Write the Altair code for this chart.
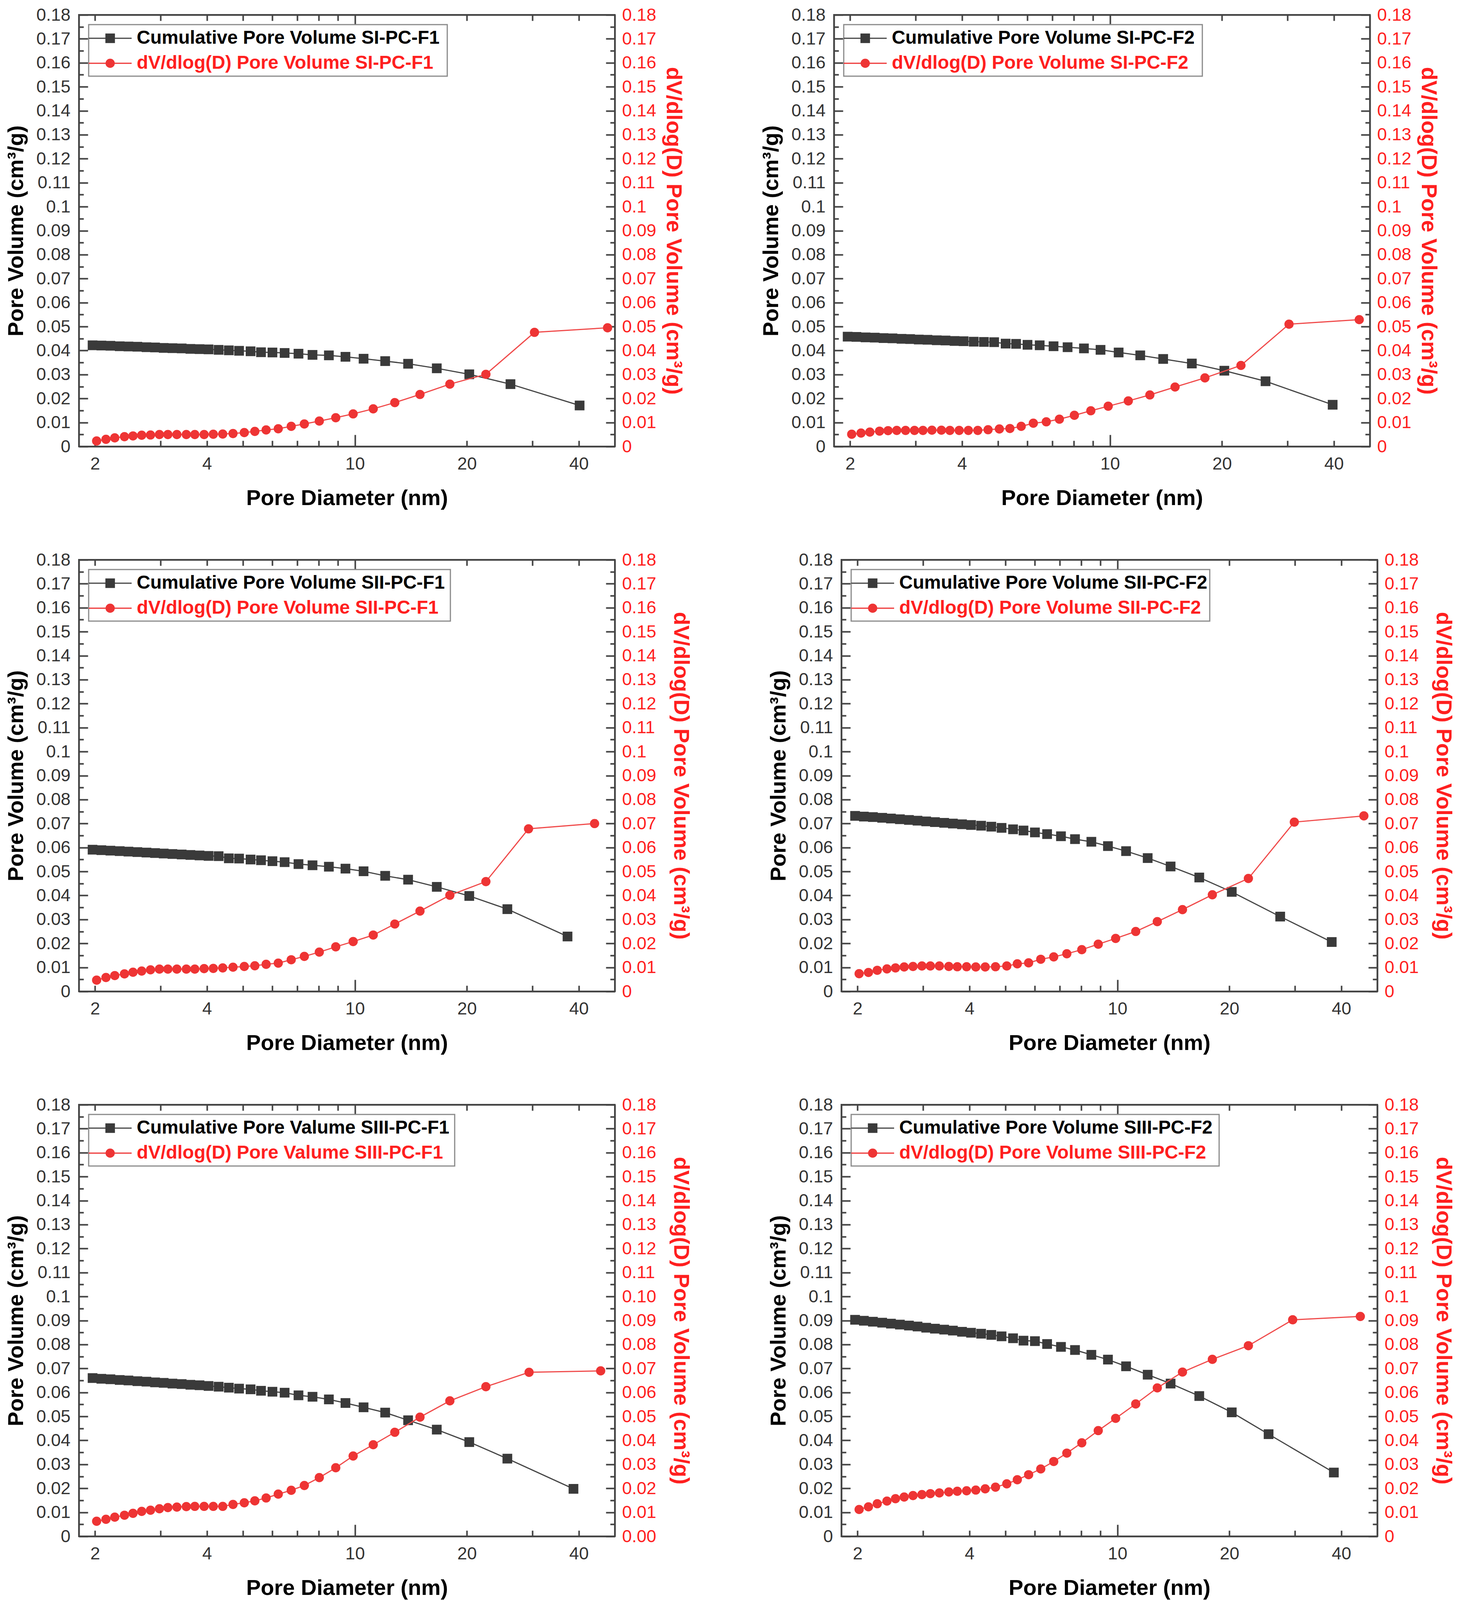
import altair as alt
import pandas as pd

FONT = "Liberation Sans"

# ---------------- axes ----------------
X_TICKS = [2, 3, 4, 5, 6, 7, 8, 9, 10, 20, 30, 40]
X_LABELS = [2, 4, 10, 20, 40]
X_DOMAIN = [1.81, 50]
Y_DOMAIN = [0, 0.18]
Y_TICKS = [round(0.005 * i, 3) for i in range(37)]

# ---------------- pore diameters (nm) ----------------
D_SQ_BASE = [1.97, 2.08, 2.20, 2.33, 2.46, 2.60, 2.75, 2.90, 3.06, 3.23, 3.42, 3.61, 3.82, 4.04,
             4.30, 4.58, 4.88, 5.24, 5.59, 6.00, 6.47, 7.05, 7.69, 8.51, 9.43, 10.55, 12.06,
             13.9, 16.6, 20.3]
D_CI_BASE = [2.02, 2.14, 2.26, 2.40, 2.53, 2.67, 2.82, 2.98, 3.14, 3.32, 3.52, 3.71, 3.93, 4.16,
             4.41, 4.70, 5.04, 5.38, 5.77, 6.22, 6.74, 7.31, 8.02, 8.88, 9.89, 11.2, 12.8,
             14.96, 18.0, 22.5]

SQ_TAIL = [[26.2, 40.2], [26.2, 39.7], [25.7, 37.3], [27.4, 37.7], [25.7, 38.7], [25.5, 38.2]]
CI_TAIL = [[30.4, 47.8], [30.3, 46.8], [29.3, 44.1], [29.9, 46.0], [29.4, 45.8], [29.6, 45.0]]

# ---------------- cumulative pore volume (cm3/g) ----------------
SQ_SI_F1 = [0.0422, 0.0421, 0.0420, 0.0418, 0.0417, 0.0416, 0.0414, 0.0413, 0.0411, 0.0410,
            0.0409, 0.0407, 0.0406, 0.0405, 0.0403, 0.0401, 0.0399, 0.0397, 0.0393, 0.0392,
            0.0390, 0.0387, 0.0382, 0.0380, 0.0374, 0.0366, 0.0356, 0.0345, 0.0326, 0.0301,
            0.0260, 0.0171]
SQ_SI_F2 = [0.0458, 0.0457, 0.0455, 0.0454, 0.0452, 0.0451, 0.0449, 0.0448, 0.0446, 0.0445,
            0.0443, 0.0442, 0.0440, 0.0439, 0.0437, 0.0436, 0.0435, 0.0429, 0.0428, 0.0424,
            0.0422, 0.0418, 0.0414, 0.0409, 0.0403, 0.0392, 0.0380, 0.0365, 0.0346, 0.0316,
            0.0272, 0.0174]
SQ_SII_F1 = [0.0591, 0.0589, 0.0587, 0.0585, 0.0583, 0.0581, 0.0579, 0.0577, 0.0575, 0.0573,
             0.0571, 0.0569, 0.0567, 0.0565, 0.0564, 0.0555, 0.0554, 0.0550, 0.0547, 0.0543,
             0.0539, 0.0531, 0.0526, 0.0520, 0.0512, 0.0501, 0.0482, 0.0466, 0.0436, 0.0398,
             0.0343, 0.0229]
SQ_SII_F2 = [0.0732, 0.0729, 0.0727, 0.0724, 0.0721, 0.0718, 0.0715, 0.0712, 0.0709, 0.0706,
             0.0703, 0.0700, 0.0697, 0.0694, 0.0691, 0.0687, 0.0682, 0.0676, 0.0671, 0.0663,
             0.0656, 0.0647, 0.0635, 0.0624, 0.0606, 0.0585, 0.0556, 0.0521, 0.0475, 0.0415,
             0.0312, 0.0206]
SQ_SIII_F1 = [0.0660, 0.0657, 0.0655, 0.0652, 0.0650, 0.0647, 0.0645, 0.0642, 0.0640, 0.0637,
              0.0635, 0.0632, 0.0630, 0.0627, 0.0624, 0.0620, 0.0616, 0.0613, 0.0607, 0.0603,
              0.0599, 0.0588, 0.0582, 0.0571, 0.0556, 0.0538, 0.0516, 0.0484, 0.0445, 0.0393,
              0.0324, 0.0198]
SQ_SIII_F2 = [0.0903, 0.0899, 0.0895, 0.0891, 0.0887, 0.0883, 0.0879, 0.0875, 0.0870, 0.0866,
              0.0862, 0.0858, 0.0853, 0.0849, 0.0845, 0.0840, 0.0834, 0.0826, 0.0816, 0.0814,
              0.0802, 0.0790, 0.0777, 0.0757, 0.0737, 0.0709, 0.0674, 0.0637, 0.0585, 0.0517,
              0.0426, 0.0266]

# ---------------- dV/dlog(D) pore volume (cm3/g) ----------------
CI_SI_F1 = [0.0023, 0.0030, 0.0036, 0.0041, 0.0044, 0.0047, 0.0048, 0.0050, 0.0050, 0.0050,
            0.0050, 0.0050, 0.0050, 0.0051, 0.0052, 0.0054, 0.0058, 0.0063, 0.0069, 0.0074,
            0.0084, 0.0094, 0.0106, 0.0120, 0.0136, 0.0157, 0.0183, 0.0217, 0.0260, 0.0301,
            0.0476, 0.0495]
CI_SI_F2 = [0.0051, 0.0056, 0.0060, 0.0064, 0.0066, 0.0067, 0.0067, 0.0067, 0.0067, 0.0068,
            0.0068, 0.0067, 0.0067, 0.0067, 0.0067, 0.0070, 0.0073, 0.0075, 0.0084, 0.0097,
            0.0103, 0.0114, 0.0130, 0.0149, 0.0168, 0.0190, 0.0215, 0.0248, 0.0286, 0.0338,
            0.0510, 0.0529]
CI_SII_F1 = [0.0047, 0.0058, 0.0066, 0.0073, 0.0080, 0.0085, 0.0090, 0.0093, 0.0093, 0.0093,
             0.0093, 0.0093, 0.0095, 0.0096, 0.0098, 0.0101, 0.0104, 0.0107, 0.0113, 0.0118,
             0.0132, 0.0146, 0.0164, 0.0186, 0.0208, 0.0235, 0.0281, 0.0335, 0.0401, 0.0458,
             0.0678, 0.0700]
CI_SII_F2 = [0.0074, 0.0079, 0.0088, 0.0094, 0.0098, 0.0102, 0.0104, 0.0106, 0.0106, 0.0106,
             0.0104, 0.0103, 0.0103, 0.0102, 0.0102, 0.0103, 0.0106, 0.0115, 0.0119, 0.0134,
             0.0144, 0.0157, 0.0174, 0.0197, 0.0221, 0.0250, 0.0291, 0.0341, 0.0403, 0.0471,
             0.0706, 0.0732]
CI_SIII_F1 = [0.0063, 0.0071, 0.0080, 0.0088, 0.0096, 0.0104, 0.0109, 0.0115, 0.0120, 0.0122,
              0.0124, 0.0125, 0.0125, 0.0125, 0.0125, 0.0133, 0.0140, 0.0148, 0.0160, 0.0176,
              0.0192, 0.0212, 0.0245, 0.0286, 0.0335, 0.0382, 0.0434, 0.0497, 0.0565, 0.0624,
              0.0684, 0.0690]
CI_SIII_F2 = [0.0112, 0.0123, 0.0136, 0.0147, 0.0157, 0.0164, 0.0170, 0.0174, 0.0178, 0.0181,
              0.0185, 0.0188, 0.0190, 0.0193, 0.0198, 0.0205, 0.0219, 0.0236, 0.0257, 0.0281,
              0.0312, 0.0347, 0.0390, 0.0441, 0.0492, 0.0552, 0.0619, 0.0685, 0.0738, 0.0795,
              0.0903, 0.0917]

SAMPLES = ["SI-PC-F1", "SI-PC-F2", "SII-PC-F1", "SII-PC-F2", "SIII-PC-F1", "SIII-PC-F2"]
WORDS = ["Volume", "Volume", "Volume", "Volume", "Valume", "Volume"]
SQ_VALUES = [SQ_SI_F1, SQ_SI_F2, SQ_SII_F1, SQ_SII_F2, SQ_SIII_F1, SQ_SIII_F2]
CI_VALUES = [CI_SI_F1, CI_SI_F2, CI_SII_F1, CI_SII_F2, CI_SIII_F1, CI_SIII_F2]
RIGHT_FMT = [".2~f", ".2~f", ".2~f", ".2~f", ".2f", ".2~f"]
LEGEND_W = [943, 943, 951, 943, 962, 967]

W, H = 1372, 1105
DARK = "#444444"
SQ_COLOR = "#3a3a3a"
RED = "#ee3434"
RED_TXT = "#ff1f1f"

MAJ_Y = "round(datum.value*200) % 2 == 0"
x_lab_test = " || ".join(f"datum.value == {v}" for v in X_LABELS)


def x_axis_bottom():
    return alt.Axis(
        orient="bottom", values=X_TICKS, title="Pore Diameter (nm)",
        labelExpr=f"({x_lab_test}) ? format(datum.value, 'd') : ''",
        tickSize={"expr": "datum.value == 10 ? -30 : -15"},
        labelPadding={"expr": "datum.value == 10 ? 52 : 37"},
        tickColor=DARK, tickWidth=4, domainColor=DARK, domainWidth=4,
        labelFontSize=45, labelColor="#333333", labelFont=FONT,
        titleFontSize=56, titleFont=FONT, titleFontWeight="bold", titleColor="black",
        titlePadding=38, grid=False, labelFlush=False,
    )


def x_axis_top():
    return alt.Axis(
        orient="top", values=X_TICKS, title=None, labels=False,
        tickSize={"expr": "datum.value == 10 ? -30 : -15"},
        tickColor=DARK, tickWidth=4, domainColor=DARK, domainWidth=4, grid=False,
    )


def y_axis_left():
    return alt.Axis(
        orient="left", values=Y_TICKS, title="Pore Volume (cm³/g)",
        labelExpr=f"{MAJ_Y} ? format(datum.value, '.2~f') : ''",
        tickSize={"expr": f"{MAJ_Y} ? -23 : -12"},
        labelPadding=45, tickColor=DARK, tickWidth=4, domainColor=DARK, domainWidth=4,
        labelFontSize=45, labelColor="#333333", labelFont=FONT,
        titleFontSize=56, titleFont=FONT, titleFontWeight="bold", titleColor="black",
        titlePadding=22, grid=False, labelFlush=False,
    )


def y_axis_right(fmt, pad):
    return alt.Axis(
        orient="right", values=Y_TICKS, title="dV/dlog(D) Pore Volume (cm³/g)",
        labelExpr=f"{MAJ_Y} ? format(datum.value, '{fmt}') : ''",
        tickSize={"expr": f"{MAJ_Y} ? -23 : -12"},
        labelPadding=41, tickColor=DARK, tickWidth=4, domainColor=DARK, domainWidth=4,
        labelFontSize=45, labelColor=RED_TXT, labelFont=FONT,
        titleFontSize=56, titleFont=FONT, titleFontWeight="bold", titleColor=RED_TXT,
        titlePadding=pad, grid=False, labelFlush=False,
    )


ONE = pd.DataFrame({"k": [0]})


def legend_layers(i):
    layers = []
    box = alt.Chart(ONE).mark_rect(fill="white", stroke="#8a8a8a", strokeWidth=3).encode(
        x=alt.value(25), x2=alt.value(LEGEND_W[i]), y=alt.value(25), y2=alt.value(157))
    layers.append(box)
    entries = [
        (60, SQ_COLOR, DARK, "square", 600, "black", f"Cumulative Pore {WORDS[i]} {SAMPLES[i]}"),
        (124, RED, RED, "circle", 560, RED_TXT, f"dV/dlog(D) Pore {WORDS[i]} {SAMPLES[i]}"),
    ]
    for y, mcol, lcol, shape, size, tcol, label in entries:
        layers.append(alt.Chart(ONE).mark_rule(color=lcol, strokeWidth=3).encode(
            x=alt.value(25), x2=alt.value(135), y=alt.value(y)))
        layers.append(alt.Chart(ONE).mark_point(shape=shape, filled=True, size=size,
                                                color=mcol, opacity=1).encode(
            x=alt.value(80), y=alt.value(y)))
        layers.append(alt.Chart(ONE).mark_text(align="left", baseline="middle", fontSize=48,
                                               font=FONT, fontWeight="bold", color=tcol).encode(
            x=alt.value(148), y=alt.value(y), text=alt.value(label)))
    return layers


def panel(i):
    df_sq = pd.DataFrame({"D": D_SQ_BASE + SQ_TAIL[i], "V": SQ_VALUES[i]})
    df_ci = pd.DataFrame({"D": D_CI_BASE + CI_TAIL[i], "V": CI_VALUES[i]})
    xs = alt.Scale(type="log", domain=X_DOMAIN, nice=False)
    ys = alt.Scale(domain=Y_DOMAIN, nice=False, zero=False)
    xb, xt = x_axis_bottom(), x_axis_top()
    yl = y_axis_left()
    yr = y_axis_right(RIGHT_FMT[i], 15 if i < 2 else 34)

    sq_enc = dict(x=alt.X("D:Q", scale=xs, axis=xb), y=alt.Y("V:Q", scale=ys, axis=yl))
    ci_enc = dict(x=alt.X("D:Q", scale=xs, axis=xt), y=alt.Y("V:Q", scale=ys, axis=yr))

    sq = alt.layer(
        alt.Chart(df_sq).mark_line(color=DARK, strokeWidth=3).encode(**sq_enc),
        alt.Chart(df_sq).mark_point(shape="square", filled=True, size=620, color=SQ_COLOR,
                                    opacity=1).encode(**sq_enc),
    )
    ci = alt.layer(
        alt.Chart(df_ci).mark_line(color="#f04a4a", strokeWidth=3).encode(**ci_enc),
        alt.Chart(df_ci).mark_point(shape="circle", filled=True, size=560, color=RED,
                                    opacity=1).encode(**ci_enc),
    )
    return alt.layer(sq, ci, *legend_layers(i)).resolve_scale(y="independent").resolve_axis(
        x="independent", y="independent").properties(width=W, height=H)


rows = [alt.hconcat(panel(2 * r), panel(2 * r + 1), spacing=190) for r in range(3)]
chart = alt.vconcat(*rows, spacing=104).properties(
    padding={"left": 3, "top": 6, "right": 3, "bottom": 3}, background="white"
).configure(font=FONT).configure_view(stroke=DARK, strokeWidth=4)

chart.save("out.html", embed_options={"renderer": "svg", "actions": False})
